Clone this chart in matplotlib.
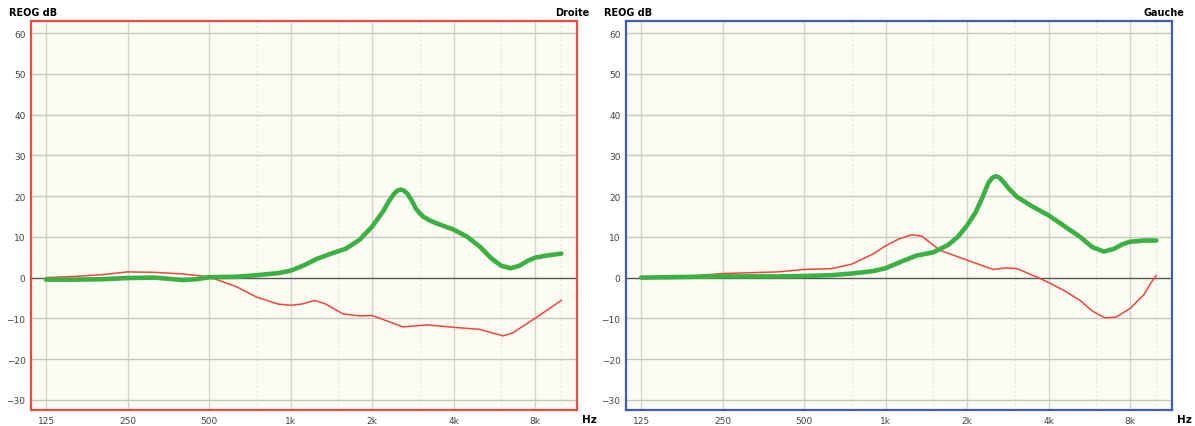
import matplotlib.pyplot as plt
import numpy as np

# --- data ---
tick_freqs = [125, 250, 500, 1000, 2000, 4000, 8000]
tick_labels = ["125", "250", "500", "1k", "2k", "4k", "8k"]
half_freqs = [750, 1500, 3000, 6000, 10000]
db_ticks = [-30, -20, -10, 0, 10, 20, 30, 40, 50, 60]

droite_green_f = [125, 160, 200, 250, 315, 400, 450, 500, 630, 750, 900, 1000, 1120,
                  1250, 1400, 1600, 1800, 2000, 2200, 2300, 2400, 2470, 2550, 2620,
                  2700, 2800, 2900, 3000, 3100, 3300, 3500, 4000, 4500, 5000, 5500,
                  6000, 6500, 7000, 7500, 8000, 9000, 10000]
droite_green_db = [-0.5, -0.5, -0.4, -0.1, 0.0, -0.6, -0.4, 0.1, 0.2, 0.6, 1.1, 1.7, 3.0,
                   4.6, 5.8, 7.1, 9.3, 12.5, 16.3, 18.6, 20.4, 21.3, 21.6, 21.4,
                   20.6, 19.0, 17.0, 15.8, 14.9, 13.9, 13.2, 11.8, 10.0, 7.6, 4.8,
                   2.9, 2.3, 2.9, 4.1, 4.9, 5.5, 5.9]

droite_red_f = [125, 160, 200, 250, 315, 400, 500, 630, 750, 900, 1000, 1100, 1230,
                1350, 1560, 1800, 2000, 2200, 2600, 3200, 4000, 5000, 5500, 6100,
                6600, 8000, 10000]
droite_red_db = [0.0, 0.3, 0.7, 1.4, 1.3, 0.9, 0.2, -2.2, -4.8, -6.5, -6.8, -6.5, -5.6,
                 -6.5, -8.9, -9.4, -9.3, -10.3, -12.1, -11.6, -12.2, -12.7, -13.5, -14.3,
                 -13.6, -10.0, -5.6]

gauche_green_f = [125, 250, 400, 500, 630, 750, 900, 1000, 1150, 1300, 1500, 1700, 1850,
                  2000, 2150, 2270, 2400, 2480, 2560, 2640, 2750, 2850, 3060, 3500,
                  4000, 5230, 5800, 6400, 7000, 7500, 8000, 9000, 10000]
gauche_green_db = [0.0, 0.3, 0.3, 0.4, 0.6, 1.0, 1.6, 2.3, 4.0, 5.4, 6.2, 8.0, 10.0,
                   12.8, 16.0, 19.4, 23.3, 24.5, 24.9, 24.5, 23.2, 21.9, 19.8, 17.4,
                   15.3, 10.0, 7.5, 6.4, 7.1, 8.2, 8.8, 9.1, 9.1]

gauche_red_f = [125, 200, 250, 315, 400, 500, 630, 750, 900, 1000, 1120, 1250, 1360,
                1590, 2000, 2500, 2800, 3060, 3630, 4000, 4600, 5230, 5800, 6470,
                7100, 8000, 9000, 9500, 10000]
gauche_red_db = [0.0, 0.5, 1.0, 1.2, 1.4, 2.0, 2.2, 3.3, 5.8, 7.8, 9.5, 10.5, 10.2,
                 6.7, 4.3, 2.0, 2.4, 2.2, 0.1, -1.2, -3.3, -5.6, -8.2, -9.9,
                 -9.7, -7.6, -4.2, -1.5, 0.5]

GREEN = "#3bb143"
RED = "#f0443c"


def draw_panel(fig, rect, side, border, green, red):
    ax = fig.add_axes(rect)
    ax.set_facecolor("#fcfcf2")
    ax.set_xscale("log")
    ax.set_xlim(110, 11430)
    ax.set_ylim(-32.5, 63)

    for f in tick_freqs:
        ax.axvline(f, color="#d4d4ce", lw=1.0, zorder=1)
    for f in half_freqs:
        ax.axvline(f, color="#e2e2dc", lw=0.8, ls=(0, (2, 2)), zorder=1)
    for d in db_ticks:
        if d != 0:
            ax.axhline(d, color="#c8c8c2", lw=1.0, zorder=1)
    ax.axhline(0, color="#555555", lw=1.0, zorder=2)

    ax.plot(red[0], red[1], color=RED, lw=1.1, zorder=3, solid_joinstyle="round")
    ax.plot(green[0], green[1], color=GREEN, lw=3.3, zorder=4,
            solid_joinstyle="round", solid_capstyle="round")

    ax.set_xticks(tick_freqs)
    ax.set_xticklabels(tick_labels)
    ax.minorticks_off()
    ax.set_yticks(db_ticks)
    ax.tick_params(length=0, labelsize=6.5, labelcolor="#444444", pad=4)
    for s in ax.spines.values():
        s.set_color(border)
        s.set_linewidth(1.6)

    ax.text(-0.041, 1.01, "REOG dB", transform=ax.transAxes, fontsize=7,
            fontweight="bold", ha="left", va="bottom")
    ax.text(1.022, 1.01, side, transform=ax.transAxes, fontsize=7,
            fontweight="bold", ha="right", va="bottom")
    ax.text(1.01, -0.024, "Hz", transform=ax.transAxes, fontsize=7.5,
            fontweight="bold", ha="left", va="center")
    return ax


fig = plt.figure(figsize=(11.95, 4.27), dpi=100)
draw_panel(fig, [31 / 1195, 16 / 427, 546 / 1195, 389 / 427], "Droite", "#ee4a44",
           (droite_green_f, droite_green_db), (droite_red_f, droite_red_db))
draw_panel(fig, [626 / 1195, 16 / 427, 546 / 1195, 389 / 427], "Gauche", "#3f5fae",
           (gauche_green_f, gauche_green_db), (gauche_red_f, gauche_red_db))

fig.savefig("out.png", dpi=100)
plt.close(fig)
